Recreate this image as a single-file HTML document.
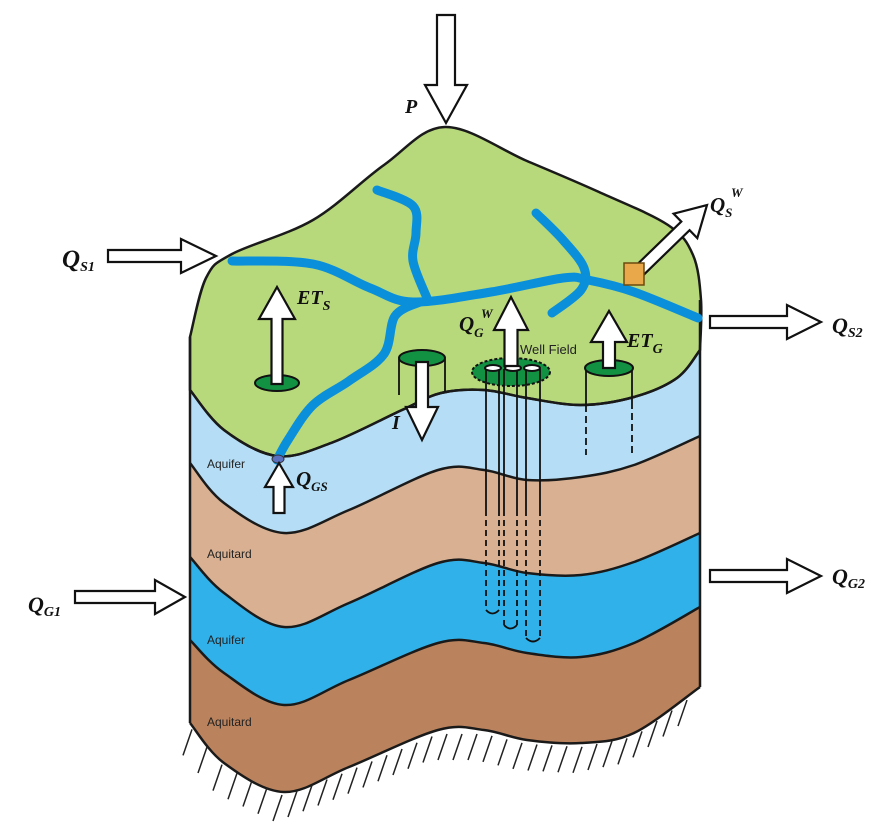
<!DOCTYPE html>
<html><head><meta charset="utf-8"><style>
html,body{margin:0;padding:0;background:#fff;}
svg{display:block;}
.lbl{font-family:"Liberation Serif",serif;font-style:italic;font-weight:bold;fill:#111;}
.lay{font-family:"Liberation Sans",sans-serif;font-size:12px;fill:#222;}
</style></head><body>
<svg id="s" width="895" height="832" viewBox="0 0 895 832" xmlns="http://www.w3.org/2000/svg">
<g id="layers"></g>
<g id="hatch" stroke="#222" stroke-width="1.5"></g>
<g id="fg"></g>
<g id="txt">
<text class="lay" x="207" y="468">Aquifer</text>
<text class="lay" x="207" y="558">Aquitard</text>
<text class="lay" x="207" y="644">Aquifer</text>
<text class="lay" x="207" y="726">Aquitard</text>
<text class="lay" x="520" y="354" style="font-size:13px">Well Field</text>
<text class="lbl" x="405" y="113" font-size="20">P</text>
<text class="lbl" x="62" y="267" font-size="25">Q<tspan font-size="14" dy="4">S1</tspan></text>
<text class="lbl" x="832" y="333" font-size="22">Q<tspan font-size="14" dy="4">S2</tspan></text>
<text class="lbl" x="28" y="612" font-size="22">Q<tspan font-size="14" dy="4">G1</tspan></text>
<text class="lbl" x="832" y="584" font-size="22">Q<tspan font-size="14" dy="4">G2</tspan></text>
<text class="lbl" x="297" y="304" font-size="20">ET<tspan font-size="14" dy="6">S</tspan></text>
<text class="lbl" x="627" y="347" font-size="20">ET<tspan font-size="14" dy="6">G</tspan></text>
<text class="lbl" x="459" y="331" font-size="21">Q<tspan font-size="13" dy="6">G</tspan></text>
<text class="lbl" x="481" y="318" font-size="13">W</text>
<text class="lbl" x="392" y="429" font-size="20">I</text>
<text class="lbl" x="296" y="486" font-size="21">Q<tspan font-size="13" dy="5">GS</tspan></text>
<text class="lbl" x="710" y="212" font-size="21">Q<tspan font-size="13" dy="5">S</tspan></text>
<text class="lbl" x="731" y="197" font-size="13">W</text>
</g>
</svg>
<script>
const NS="http://www.w3.org/2000/svg";
const TOP=[[190,337],[206,278],[232,254],[313,220],[384,165],[445,127],[527,161],[599,192],[668,225],[693,255],[701,300],[700,350]];
const G=[[190,390],[224,430],[277,456],[331,443],[402,410],[441,393],[484,390],[527,398],[581,405],[634,397],[677,378],[700,350]];
const B1=[[190,463],[224,503],[284,533],[349,510],[438,470],[484,470],[527,480],[581,477],[634,465],[700,436]];
const B2=[[190,557],[224,593],[284,627],[349,603],[438,563],[484,563],[527,573],[581,575],[634,562],[700,533]];
const B3=[[190,640],[224,673],[284,705],[349,680],[438,643],[484,643],[527,653],[581,657],[634,643],[700,607]];
const BOT=[[190,723],[224,763],[284,792],[349,767],[438,730],[484,730],[527,740],[581,743],[634,733],[700,687]];
function sm(p,start){let d=(start||"M")+p[0][0]+","+p[0][1];for(let i=0;i<p.length-1;i++){const a=p[Math.max(0,i-1)],b=p[i],c=p[i+1],e=p[Math.min(p.length-1,i+2)];d+=" C"+(b[0]+(c[0]-a[0])/6)+","+(b[1]+(c[1]-a[1])/6)+" "+(c[0]-(e[0]-b[0])/6)+","+(c[1]-(e[1]-b[1])/6)+" "+c[0]+","+c[1];}return d;}
function mk(tag,parent,attrs){const e=document.createElementNS(NS,tag);for(const k in attrs)e.setAttribute(k,attrs[k]);parent.appendChild(e);return e;}
const L=document.getElementById("layers"),F=document.getElementById("fg"),H=document.getElementById("hatch");
function layer(top,color,name){const d=sm(top)+" L700,687 "+sm(BOT.slice().reverse(),"L")+" Z";const e=mk("path",L,{d:d,fill:color});

}
layer(G,"#b5def6","upper-aquifer");layer(B1,"#d9b192","upper-aquitard");layer(B2,"#31b1e9","lower-aquifer");layer(B3,"#bb835d","lower-aquitard");
const gd=sm(TOP)+" "+sm(G.slice().reverse(),"L")+" Z";
const green=mk("path",L,{d:gd,fill:"#b8d97b",stroke:"#1a1a1a","stroke-width":2.5});


[G,B1,B2,B3,BOT].forEach(function(p){const e=mk("path",L,{d:sm(p),fill:"none",stroke:"#1a1a1a","stroke-width":2.5});

});
const ed=mk("path",L,{d:"M190,337 L190,723 M700,300 L700,687",fill:"none",stroke:"#1a1a1a","stroke-width":2.5});


function yAt(p,x){for(let i=0;i<p.length-1;i++){if(x>=p[i][0]&&x<=p[i+1][0]){const t=(x-p[i][0])/(p[i+1][0]-p[i][0]);return p[i][1]+t*(p[i+1][1]-p[i][1]);}}return p[p.length-1][1];}
for(let x=192;x<=700;x+=15){const y=yAt(BOT,x)+4;const h=mk("line",H,{x1:x,y1:y,x2:x-9,y2:y+26});

}
const R=[[[232,261],[313,264],[370,288],[413,302],[491,292],[563,278],[588,280],[634,292],[698,318]],[[377,190],[413,206],[416,233],[413,261],[427,298]],[[536,213],[563,240],[584,268],[581,290],[552,313]],[[420,302],[395,316],[384,354],[349,381],[313,405],[288,440],[277,460]]];
R.forEach(function(p){const e=mk("path",F,{d:sm(p),fill:"none",stroke:"#0a90db","stroke-width":9,"stroke-linecap":"round","stroke-linejoin":"round"});

});
const dot=mk("ellipse",F,{cx:278,cy:459,rx:6,ry:4,fill:"#5b6fbf",stroke:"#333","stroke-width":1});


function arrow(x1,y1,x2,y2,sw,hw,hl,name){const dx=x2-x1,dy=y2-y1,l=Math.hypot(dx,dy),ux=dx/l,uy=dy/l,nx=-uy,ny=ux,bx=x2-ux*hl,by=y2-uy*hl;
const pts=[[x1+nx*sw/2,y1+ny*sw/2],[bx+nx*sw/2,by+ny*sw/2],[bx+nx*hw/2,by+ny*hw/2],[x2,y2],[bx-nx*hw/2,by-ny*hw/2],[bx-nx*sw/2,by-ny*sw/2],[x1-nx*sw/2,y1-ny*sw/2]];
const e=mk("polygon",F,{points:pts.map(q=>q[0].toFixed(1)+","+q[1].toFixed(1)).join(" "),fill:"#fff",stroke:"#111","stroke-width":2.2,"stroke-linejoin":"miter"});

}
function ell(cx,cy,rx,ry,fill,name,dash){const e=mk("ellipse",F,{cx:cx,cy:cy,rx:rx,ry:ry,fill:fill,stroke:"#111","stroke-width":2});if(dash)e.setAttribute("stroke-dasharray",dash);

}
function ln(x1,y1,x2,y2,name,dash){const e=mk("line",F,{x1:x1,y1:y1,x2:x2,y2:y2,stroke:"#111","stroke-width":1.8});if(dash)e.setAttribute("stroke-dasharray",dash);

}
ell(277,383,22,8,"#139142","ets-source");
arrow(277,384,277,287,11,36,32,"ets-arrow");
ln(399,359,399,395,"infiltration-cylinder-left");ln(445,359,445,392,"infiltration-cylinder-right");
ell(422,358,23,8,"#139142","infiltration-cylinder-top");
arrow(422,362,422,440,12,32,33,"infiltration-arrow");
ln(586,368,586,405,"etg-cylinder-left");ln(632,368,632,402,"etg-cylinder-right");
ln(586,405,586,455,"etg-cylinder-left-dashed","7,4");ln(632,402,632,455,"etg-cylinder-right-dashed","7,4");
ell(609,368,24,8,"#139142","etg-cylinder-top");
arrow(609,368,609,311,12,36,31,"etg-arrow");
ell(511,372,39,14,"#139142","well-field-area","3,2");
const wells=[[493,486,499,610],[513,504,517,625],[532,526,540,638]];
wells.forEach(function(w,i){ln(w[1],369,w[1],510,"well-pipe-left");ln(w[2],369,w[2],510,"well-pipe-right");
ln(w[1],510,w[1],w[3],"well-pipe-left-dashed","6,4");ln(w[2],510,w[2],w[3],"well-pipe-right-dashed","6,4");
const u=mk("path",F,{d:"M"+w[1]+","+w[3]+" Q"+(w[1]+w[2])/2+","+(w[3]+7)+" "+w[2]+","+w[3],fill:"none",stroke:"#111","stroke-width":1.8});


ell(w[0],368,8,3,"#fff","well-head");});
arrow(511,366,511,297,13,34,33,"qgw-arrow");
arrow(640,270,707,205,12,34,30,"qsw-arrow");
const box=mk("rect",F,{x:624,y:263,width:20,height:22,fill:"#e9a94a",stroke:"#6b4a10","stroke-width":1.5});


arrow(279,513,279,463,11,28,24,"qgs-arrow");
arrow(446,15,446,123,18,42,38,"precipitation-arrow");
arrow(108,256,216,256,12,34,35,"qs1-arrow");
arrow(710,322,821,322,12,34,34,"qs2-arrow");
arrow(75,597,185,597,12,34,30,"qg1-arrow");
arrow(710,576,821,576,12,34,34,"qg2-arrow");
</script>
</body></html>
